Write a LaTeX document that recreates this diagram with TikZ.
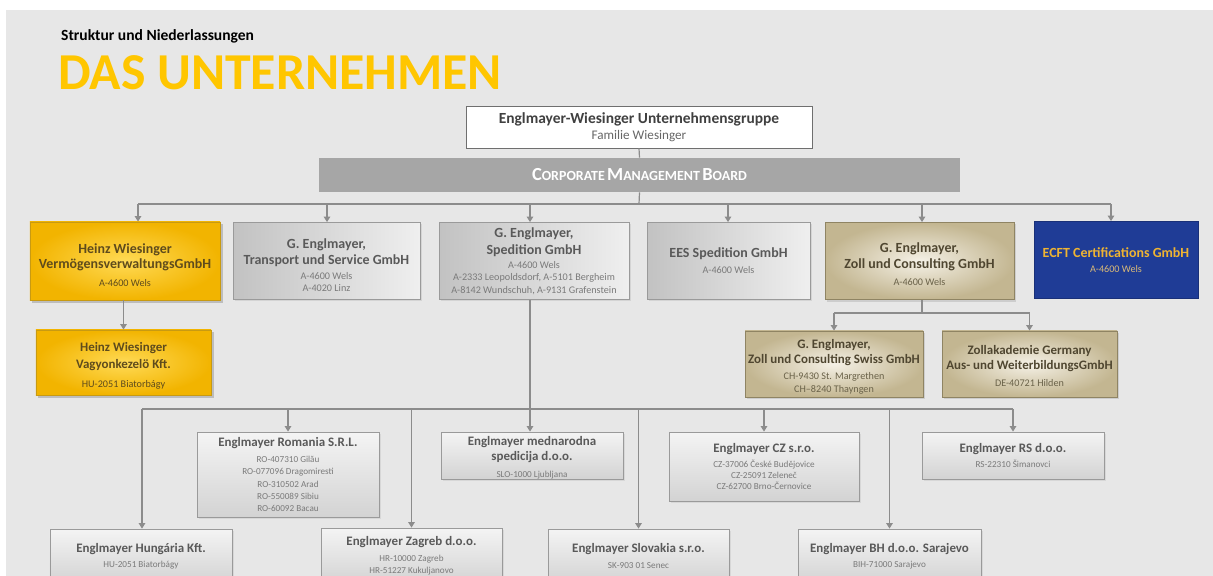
\documentclass[tikz,border=0pt]{standalone}
\usepackage{fontspec}
\setmainfont{Carlito}
\usetikzlibrary{arrows.meta,shadows}
\definecolor{bgc}{HTML}{E7E7E7}
\definecolor{conc}{HTML}{8C8C8C}
\definecolor{boxline}{HTML}{9A9A9A}
\definecolor{titc}{HTML}{595959}
\definecolor{subc}{HTML}{7A7A7A}
\definecolor{grayL}{HTML}{C2C2C2}
\definecolor{grayR}{HTML}{EFEFEF}
\definecolor{lowT}{HTML}{F4F4F4}
\definecolor{lowB}{HTML}{D3D3D3}
\definecolor{yelIn}{HTML}{FFDA55}
\definecolor{yelOut}{HTML}{F2B400}
\definecolor{yelline}{HTML}{C89A12}
\definecolor{yeltext}{HTML}{5E4B1C}
\definecolor{beigeIn}{HTML}{F5F1E6}
\definecolor{beigeOut}{HTML}{C3B691}
\definecolor{beigeline}{HTML}{8F8463}
\definecolor{beigetext}{HTML}{4F4630}
\definecolor{beigesub}{HTML}{6A6249}
\definecolor{ecftfill}{HTML}{1F3C96}
\definecolor{ecfttitle}{HTML}{EFB432}
\definecolor{ecftsub}{HTML}{D9B978}
\definecolor{dasyel}{HTML}{FFC600}
\definecolor{cmbfill}{HTML}{A6A6A6}
\definecolor{topline}{HTML}{6F6F6F}
\newcommand\fsz[2]{\fontsize{#1}{#2}\selectfont}
% line macros
\newcommand\RT[1]{{\fsz{14}{16}\bfseries #1}}
\newcommand\MT[1]{{\fsz{13}{16}\bfseries #1}}
\newcommand\LT[1]{{\fsz{13}{15}\bfseries #1}}
\newcommand\RS[1]{{\fsz{10.2}{12.5}\color{subc}#1}}
\newcommand\YS[1]{{\fsz{10.2}{12.5}#1}}
\newcommand\BS[1]{{\fsz{10.2}{12.5}\color{beigesub}#1}}
\newcommand\ES[1]{{\fsz{10.2}{12.5}\color{ecftsub}#1}}
\newcommand\LS[1]{{\fsz{9.2}{12.2}\color{subc}#1}}
\newcommand\push[1]{\rule{0pt}{#1}}
\newcommand\fakesc[2]{{\fsz{18.5}{20}#1}{\fsz{14}{20}#2}}
\tikzset{
  box/.style={draw=boxline, line width=0.8bp, inner sep=0pt, align=center, anchor=center,
    font=\fsz{10.2}{12.5}},
  grayrow/.style={box, left color=grayL, right color=grayR, text=titc,
    drop shadow={shadow xshift=1.5bp, shadow yshift=-1.5bp, opacity=0.18}},
  lowbox/.style={box, top color=lowT, bottom color=lowB, text=titc,
    font=\fsz{9.2}{12.2},
    drop shadow={shadow xshift=1.5bp, shadow yshift=-1.5bp, opacity=0.15}},
  yelbox/.style={box, draw=yelline, inner color=yelIn, outer color=yelOut, text=yeltext,
    drop shadow={shadow xshift=2.5bp, shadow yshift=-2.5bp, opacity=0.4}},
  beigebox/.style={box, draw=beigeline, inner color=beigeIn, outer color=beigeOut, text=beigetext,
    drop shadow={shadow xshift=2bp, shadow yshift=-2bp, opacity=0.25}},
  ecftbox/.style={box, draw=ecftfill!80!black, fill=ecftfill, text=ecfttitle},
  topbox/.style={box, draw=topline, fill=white, text=black!75},
  cmbbox/.style={box, draw=none, fill=cmbfill, text=white},
  conn/.style={draw=conc, line width=1.2bp},
  arr/.style={conn, -{Triangle[width=6.5bp,length=5.5bp]}}
}
\begin{document}
\begin{tikzpicture}[x=1bp,y=-1bp]
\lineskiplimit=-200pt\relax
\path[use as bounding box] (0,0) rectangle (1213,576);
\clip (0,0) rectangle (1213,576);
\fill[white] (0,0) rectangle (1213,576);
\fill[bgc] (6,10) rectangle (1213,576);

% headings
\node[anchor=west, inner sep=0pt, font=\fsz{15.6}{18}\bfseries] (kicker) at (61,36) {Struktur und Niederlassungen};
\node[anchor=base west, inner sep=0pt, text=dasyel, font=\fsz{52}{60}\bfseries] (headline) at (58,90) {DAS UNTERNEHMEN};

% top
\node[topbox, minimum width=346bp, minimum height=42bp] (top) at (639,127)
  {{\fsz{15.5}{18}\bfseries\color{black!75}Englmayer-Wiesinger Unternehmensgruppe}\\[3bp]
   {\fsz{13.2}{15}\color{black!60}Familie Wiesinger}};
\node[cmbbox, minimum width=641bp, minimum height=34bp] (cmb) at (639.5,175)
  {\bfseries\fakesc{C}{ORPORATE} \fakesc{M}{ANAGEMENT} \fakesc{B}{OARD}};

% row 1
\node[yelbox, minimum width=190bp, minimum height=78bp] (b1) at (125,261)
  {\RT{\push{17.5bp}Heinz Wiesinger}\\[3bp]\RT{VermögensverwaltungsGmbH}\\[5bp]\YS{A-4600 Wels}};
\node[grayrow, minimum width=187bp, minimum height=77bp] (b2) at (326.5,261)
  {\RT{\push{18bp}G. Englmayer,}\\[4bp]\RT{Transport und Service GmbH}\\[2.5bp]\RS{A-4600 Wels}\\[-1bp]\RS{A-4020 Linz}};
\node[grayrow, minimum width=190bp, minimum height=77bp] (b3) at (534,261)
  {\RT{G. Englmayer,}\\[5bp]\RT{Spedition GmbH}\\[1bp]\RS{A-4600 Wels}\\\RS{A-2333 Leopoldsdorf, A-5101 Bergheim}\\\RS{A-8142 Wundschuh, A-9131 Grafenstein}};
\node[grayrow, minimum width=163bp, minimum height=77bp] (b4) at (728.5,261)
  {\RT{EES Spedition GmbH}\\[3.5bp]\RS{A-4600 Wels}};
\node[beigebox, minimum width=189bp, minimum height=77bp] (b5) at (919.5,261)
  {\RT{\push{16bp}G. Englmayer,}\\[3.5bp]\RT{Zoll und Consulting GmbH}\\[5bp]\BS{A-4600 Wels}};
\node[ecftbox, minimum width=164bp, minimum height=77bp] (b6) at (1116,260)
  {\RT{ECFT Certifications GmbH}\\[2.5bp]\ES{A-4600 Wels}};

% second level
\node[yelbox, minimum width=175bp, minimum height=65bp] (v1) at (123.5,362.5)
  {\MT{\push{16.5bp}Heinz Wiesinger}\\[4bp]\MT{Vagyonkezelö Kft.}\\[7bp]\YS{HU-2051 Biatorbágy}};
\node[beigebox, minimum width=178bp, minimum height=66bp] (z1) at (834,364)
  {\MT{\push{15.3bp}G. Englmayer,}\\[2.5bp]\MT{Zoll und Consulting Swiss GmbH}\\[3bp]\BS{CH-9430 St. Margrethen}\\[1bp]\BS{CH–8240 Thayngen}};
\node[beigebox, minimum width=175bp, minimum height=66bp] (z2) at (1029.5,364)
  {\MT{\push{13.3bp}Zollakademie Germany}\\[2.5bp]\MT{Aus- und WeiterbildungsGmbH}\\[4.5bp]\BS{DE-40721 Hilden}};

% lower subsidiaries
\node[lowbox, minimum width=182bp, minimum height=85bp] (l2) at (288,474.5)
  {\LT{Englmayer Romania S.R.L.}\\[4bp]\LS{RO-407310 Gilău}\\\LS{RO-077096 Dragomiresti}\\\LS{RO-310502 Arad}\\\LS{RO-550089 Sibiu}\\\LS{RO-60092 Bacau}};
\node[lowbox, minimum width=182bp, minimum height=47bp] (l4) at (532,455.5)
  {\LT{\push{13bp}Englmayer mednarodna}\\[3bp]\LT{spedicija d.o.o.}\\[4.5bp]\LS{SLO-1000 Ljubljana}};
\node[lowbox, minimum width=190bp, minimum height=69bp] (l6) at (764,466.5)
  {\LT{Englmayer CZ s.r.o.}\\[3.5bp]\LS{CZ-37006 České Budějovice}\\[-1.2bp]\LS{CZ-25091 Zeleneč}\\[-1.2bp]\LS{CZ-62700 Brno-Černovice}};
\node[lowbox, minimum width=182bp, minimum height=47bp] (l8) at (1013,455.5)
  {\LT{Englmayer RS d.o.o.}\\[3.5bp]\LS{RS-22310 Šimanovci}};
\node[lowbox, minimum width=182bp, minimum height=54bp] (l1) at (141,556)
  {\LT{Englmayer Hungária Kft.}\\[3bp]\LS{HU-2051 Biatorbágy}};
\node[lowbox, minimum width=181bp, minimum height=56bp] (l3) at (411.5,556)
  {\LT{Englmayer Zagreb d.o.o.}\\[3.5bp]\LS{HR-10000 Zagreb}\\\LS{HR-51227 Kukuljanovo}};
\node[lowbox, minimum width=181bp, minimum height=54bp] (l5) at (638.5,556)
  {\LT{Englmayer Slovakia s.r.o.}\\[3bp]\LS{SK-903 01 Senec}};
\node[lowbox, minimum width=183bp, minimum height=54bp] (l7) at (889.5,556)
  {\LT{Englmayer BH d.o.o. Sarajevo}\\[3bp]\LS{BIH-71000 Sarajevo}};

% connectors top
\draw[conn] (top.south) -- (cmb.north);
\coordinate (busA) at (639,204);
\draw[conn] (cmb.south) -- (busA);
\coordinate (a1) at (138,204);
\coordinate (a2) at (327,204);
\coordinate (a3) at (530,204);
\coordinate (a4) at (728,204);
\coordinate (a5) at (922,204);
\coordinate (a6) at (1111,204);
\draw[conn] (a1) -- (a6);
\draw[arr] (a1) -- (a1 |- b1.north);
\draw[arr] (a2) -- (a2 |- b2.north);
\draw[arr] (a3) -- (a3 |- b3.north);
\draw[arr] (a4) -- (a4 |- b4.north);
\draw[arr] (a5) -- (a5 |- b5.north);
\draw[arr] (a6) -- (a6 |- b6.north);

% Heinz
\draw[arr] (v1.north |- b1.south) -- (v1.north);

% Zoll
\coordinate (zb) at (922,313);
\draw[conn] (a5 |- b5.south) -- (zb);
\draw[conn] (z1.north |- zb) -- (z2.north |- zb);
\draw[arr] (z1.north |- zb) -- (z1.north);
\draw[arr] (z2.north |- zb) -- (z2.north);

% lower tree
\coordinate (c1) at (142,409);
\coordinate (c8) at (1013,409);
\draw[conn] (c1) -- (c8);
\draw[arr] (a3 |- b3.south) -- (a3 |- l4.north);
\draw[arr] (c1) -- (c1 |- l1.north);
\draw[arr] (l2.north |- c1) -- (l2.north);
\draw[arr] (l3.north |- c1) -- (l3.north);
\draw[arr] (l5.north |- c1) -- (l5.north);
\draw[arr] (l6.north |- c1) -- (l6.north);
\draw[arr] (l7.north |- c1) -- (l7.north);
\draw[arr] (c8) -- (c8 |- l8.north);
\end{tikzpicture}
\end{document}
